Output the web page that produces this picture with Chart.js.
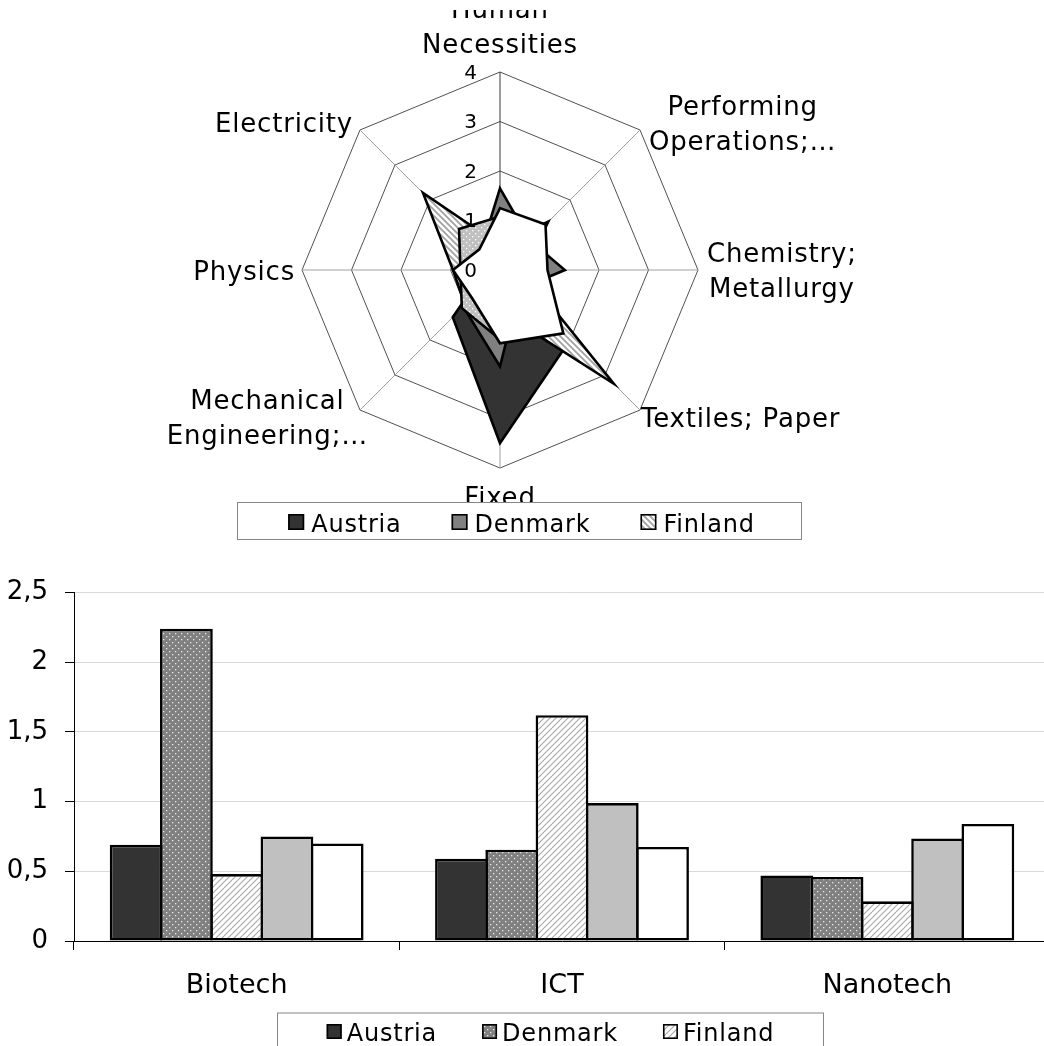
<!DOCTYPE html>
<html><head><meta charset="utf-8">
<script src="https://cdn.jsdelivr.net/npm/chart.js@4.4.1/dist/chart.umd.min.js"></script>
<style>
html,body{margin:0;padding:0;background:#fff;overflow:hidden;width:1044px;height:1046px;}
#radar{position:absolute;left:0;top:10px;}
#bars{position:absolute;left:0;top:560px;}
</style></head><body>
<canvas id="radar" width="1044" height="530"></canvas>
<canvas id="bars" width="1060" height="486"></canvas>
<script>
// ---------- data ----------
const seriesNames = ['Austria', 'Denmark', 'Finland', 'Series 4', 'Series 5'];
const radarCategories = [['Human', 'Necessities'], ['Performing', 'Operations;…'], ['Chemistry;', 'Metallurgy'], ['Textiles; Paper'], ['Fixed', 'Constructions'], ['Mechanical', 'Engineering;…'], ['Physics'], ['Electricity']];
const radarAustria = [0.5, 1.38, 0.5, 2.0, 3.5, 1.35, 0.3, 0.3];
const radarDenmark = [1.65, 0.85, 1.31, 0.55, 1.95, 1.05, 0.5, 0.55];
const radarFinland = [0.5, 0.8, 0.45, 3.25, 0.83, 1.0, 0.95, 2.2];
const radarSeries4 = [1.08, 1.0, 0.8, 1.2, 1.4, 1.09, 0.8, 1.17];
const radarSeries5 = [1.25, 1.3, 0.96, 1.81, 1.48, 0.8, 0.95, 0.59];
const radarTickMin = 0, radarTickMax = 4, radarTickStep = 1;

const barCategories = ['Biotech', 'ICT', 'Nanotech'];
const barAustria = [0.69, 0.59, 0.47];
const barDenmark = [2.24, 0.655, 0.46];
const barFinland = [0.48, 1.62, 0.285];
const barSeries4 = [0.75, 0.99, 0.735];
const barSeries5 = [0.70, 0.675, 0.84];
const barTickLabels = ['0', '0,5', '1', '1,5', '2', '2,5'];

// ---------- helpers ----------
Chart.defaults.font.family = '"DejaVu Sans", sans-serif';
Chart.defaults.color = '#000';
const FONT = '"DejaVu Sans", sans-serif';

function makePattern(ctx, kind) {
  const s = 6;
  const c = document.createElement('canvas');
  c.width = s; c.height = s;
  const g = c.getContext('2d');
  if (kind === 'dotsDark' || kind === 'dotsLight') {
    g.fillStyle = kind === 'dotsDark' ? '#808080' : '#c0c0c0';
    g.fillRect(0, 0, s, s);
    g.fillStyle = kind === 'dotsDark' ? '#e8e8e8' : '#ffffff';
    g.fillRect(1, 1, 1.3, 1.3);
    g.fillRect(4, 4, 1.3, 1.3);
  } else if (kind === 'hatchSlash') {
    g.fillStyle = '#ffffff'; g.fillRect(0, 0, s, s);
    g.strokeStyle = '#a8a8a8'; g.lineWidth = 1.1;
    g.beginPath();
    g.moveTo(-1, s + 1); g.lineTo(s + 1, -1);
    g.moveTo(-1, 1); g.lineTo(1, -1);
    g.moveTo(s - 1, s + 1); g.lineTo(s + 1, s - 1);
    g.stroke();
  } else if (kind === 'hatchBack') {
    g.fillStyle = '#ffffff'; g.fillRect(0, 0, s, s);
    g.strokeStyle = '#a4a4a4'; g.lineWidth = 1.9;
    g.beginPath();
    g.moveTo(-1, -1); g.lineTo(s + 1, s + 1);
    g.moveTo(s - 1, -1); g.lineTo(s + 1, 1);
    g.moveTo(-1, s - 1); g.lineTo(1, s + 1);
    g.stroke();
  }
  return ctx.createPattern(c, 'repeat');
}

function drawLegend(ctx, o, datasets) {
  ctx.save();
  ctx.fillStyle = '#ffffff';
  ctx.fillRect(o.left, o.top, o.right - o.left, o.bottom - o.top);
  ctx.strokeStyle = '#868686';
  ctx.lineWidth = 1;
  ctx.strokeRect(o.left + 0.5, o.top + 0.5, o.right - o.left - 1, o.bottom - o.top - 1);
  ctx.font = o.fontSize + 'px ' + FONT;
  ctx.letterSpacing = '0.8px';
  const items = datasets.slice(0, o.count);
  const widths = items.map(d => o.box + o.gapText + ctx.measureText(d.label).width);
  const total = widths.reduce((a, b) => a + b, 0) + o.gapItem * (items.length - 1);
  let x = (o.left + o.right) / 2 + o.shift - total / 2;
  ctx.textAlign = 'left';
  ctx.textBaseline = 'alphabetic';
  items.forEach((d, i) => {
    ctx.fillStyle = d.backgroundColor;
    ctx.fillRect(x, o.boxTop, o.box, o.box);
    ctx.strokeStyle = '#000';
    ctx.lineWidth = 1.6;
    ctx.strokeRect(x + 0.8, o.boxTop + 0.8, o.box - 1.6, o.box - 1.6);
    ctx.fillStyle = '#000';
    ctx.fillText(d.label, x + o.box + o.gapText, o.baseline);
    x += widths[i] + o.gapItem;
  });
  ctx.letterSpacing = '0px';
  ctx.restore();
}

// ---------- radar ----------
const rctx = document.getElementById('radar').getContext('2d');
const radarFills = ['#333333', '#808080', makePattern(rctx, 'hatchBack'), makePattern(rctx, 'dotsLight'), '#ffffff'];
const radarData = [radarAustria, radarDenmark, radarFinland, radarSeries4, radarSeries5];

const radarDecor = {
  id: 'radarDecor',
  afterDraw(chart) {
    const ctx = chart.ctx, sc = chart.scales.r;
    ctx.save();
    // tick labels
    ctx.font = '20px ' + FONT;
    ctx.fillStyle = '#000';
    ctx.textAlign = 'right';
    ctx.textBaseline = 'middle';
    sc.ticks.forEach(t => {
      const d = sc.getDistanceFromCenterForValue(t.value);
      ctx.fillText(String(t.value), sc.xCenter - 23, sc.yCenter - d + 1.5);
    });
    // category labels
    ctx.font = '26px ' + FONT;
    ctx.letterSpacing = '0.8px';
    ctx.textAlign = 'center';
    ctx.textBaseline = 'alphabetic';
    const lh = 35, cap = 19;
    chart.data.labels.forEach((lab, i) => {
      const lines = Array.isArray(lab) ? lab : [lab];
      const p = sc.getPointPosition(i, sc.drawingArea);
      const a = sc.getIndexAngle(i) - Math.PI / 2;
      const cs = Math.cos(a), sn = Math.sin(a);
      const w = Math.max(...lines.map(l => ctx.measureText(l).width));
      const h = (lines.length - 1) * lh + cap;
      let cx, top;
      if (Math.abs(cs) < 0.1) {
        cx = p.x;
        top = sn < 0 ? p.y - 19 - h : p.y + 19;
      } else {
        const vs = Math.abs(sn) < 0.1 ? 0 : Math.sign(sn);
        top = p.y + 7 * vs - h / 2;
        if (cs > 0) cx = p.x + (vs > 0 ? 1 : 9) + w / 2;
        else cx = p.x + (vs > 0 ? 8 : -7) - w / 2;
      }
      lines.forEach((l, k) => ctx.fillText(l, cx, top + cap + k * lh));
    });
    ctx.letterSpacing = '0px';
    ctx.restore();
    drawLegend(ctx, {left: 237, right: 802, top: 492, bottom: 530, fontSize: 24, box: 16, gapText: 7,
      gapItem: 50, boxTop: 504, baseline: 521.5, count: 3, shift: 2}, chart.data.datasets);
  }
};

new Chart(rctx, {
  type: 'radar',
  data: {
    labels: radarCategories,
    datasets: seriesNames.map((name, k) => ({
      label: name,
      data: radarData[k],
      backgroundColor: radarFills[k],
      borderColor: '#000',
      borderWidth: 2.6,
      borderJoinStyle: 'miter',
      fill: true,
      pointRadius: 0,
      pointHoverRadius: 0,
      order: seriesNames.length - k
    }))
  },
  options: {
    responsive: false,
    animation: false,
    devicePixelRatio: 1,
    events: [],
    layout: {padding: {left: 302, right: 346, top: 62, bottom: 72}},
    plugins: {legend: {display: false}, tooltip: {enabled: false}},
    scales: {
      r: {
        min: radarTickMin, max: radarTickMax,
        ticks: {stepSize: radarTickStep, display: false},
        pointLabels: {display: false},
        grid: {color: '#505050', lineWidth: 1},
        angleLines: {color: c => c.index === 0 ? '#3a3a3a' : '#a0a0a0', lineWidth: 1}
      }
    }
  },
  plugins: [radarDecor]
});

// ---------- bars ----------
const bctx = document.getElementById('bars').getContext('2d');
const barFills = ['#333333', makePattern(bctx, 'dotsDark'), makePattern(bctx, 'hatchSlash'), '#c0c0c0', '#ffffff'];
const barData = [barAustria, barDenmark, barFinland, barSeries4, barSeries5];

const barLegend = {
  id: 'barLegend',
  afterDraw(chart) {
    drawLegend(chart.ctx, {left: 277, right: 824, top: 452.5, bottom: 520, fontSize: 24, box: 15, gapText: 5,
      gapItem: 45, boxTop: 464, baseline: 481, count: 3, shift: 0}, chart.data.datasets);
  }
};

new Chart(bctx, {
  type: 'bar',
  data: {
    labels: barCategories,
    datasets: seriesNames.map((name, k) => ({
      label: name,
      data: barData[k],
      backgroundColor: barFills[k],
      borderColor: '#000',
      borderWidth: 2.6,
      borderSkipped: false,
      categoryPercentage: 0.7725,
      barPercentage: 1.05
    }))
  },
  options: {
    responsive: false,
    animation: false,
    devicePixelRatio: 1,
    events: [],
    layout: {padding: {left: 0, right: 10, top: 30, bottom: 0}},
    plugins: {legend: {display: false}, tooltip: {enabled: false}},
    scales: {
      x: {
        grid: {offset: true, drawOnChartArea: false, drawTicks: true, tickLength: 9, color: '#000', tickColor: '#000'},
        border: {color: '#000', width: 1},
        ticks: {font: {size: 27}, color: '#000', padding: 20, maxRotation: 0, autoSkip: false},
        afterFit(s) { s.height = 105; }
      },
      y: {
        min: 0, max: 2.5,
        ticks: {stepSize: 0.5, font: {size: 26}, color: '#000', padding: 17,
          callback: (v, i) => barTickLabels[i]},
        grid: {color: '#d9d9d9', tickColor: '#000', tickLength: 9},
        border: {color: '#000', width: 1},
        afterFit(s) { s.width = 74; }
      }
    }
  },
  plugins: [barLegend]
});
</script>
</body></html>
